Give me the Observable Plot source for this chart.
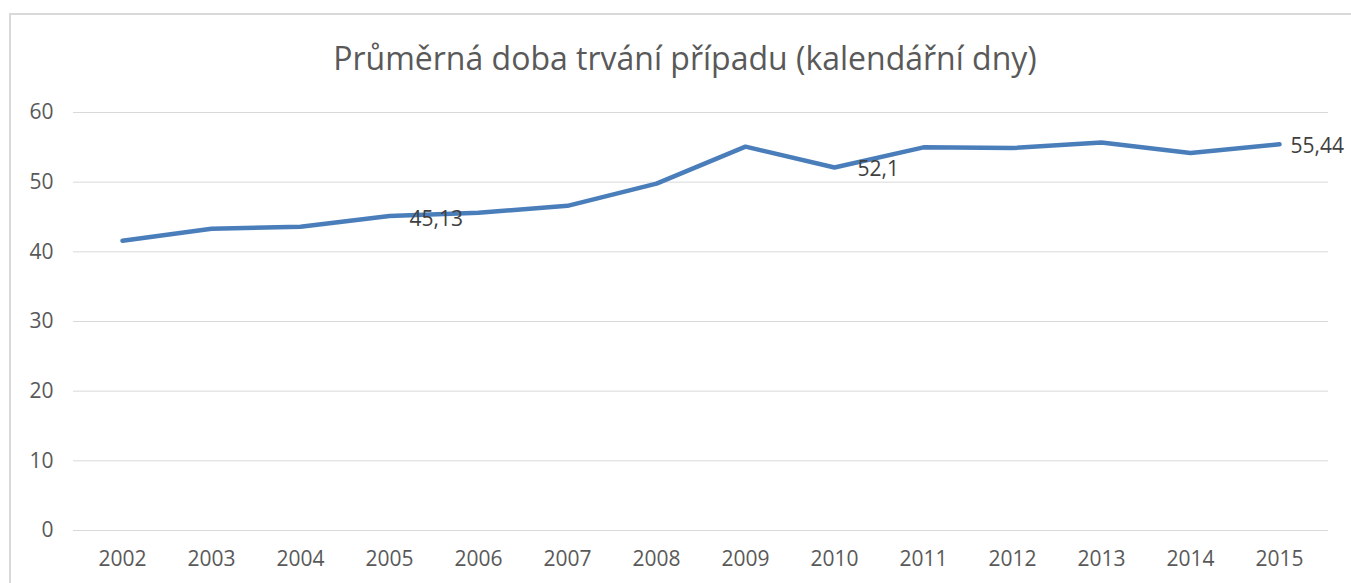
<!DOCTYPE html>
<html>
<head>
<meta charset="utf-8">
<script src="https://cdn.jsdelivr.net/npm/d3@7"></script>
<script src="https://cdn.jsdelivr.net/npm/@observablehq/plot@0.6"></script>
<style>
  html, body { margin: 0; padding: 0; background: #fff; }
  body { width: 1351px; height: 583px; position: relative; overflow: hidden; font-family: "Open Sans", sans-serif; }
  #frame { position: absolute; left: 9px; top: 13px; width: 1400px; height: 700px; border-left: 2px solid #d9d9d9; border-top: 2px solid #d9d9d9; }
  #title { position: absolute; left: 0; top: 42px; width: 1370px; text-align: center; font-size: 32px; line-height: 1; color: #595959; white-space: nowrap; }
  #chart { position: absolute; left: 0; top: 90px; }
</style>
</head>
<body>
<div id="frame"></div>
<div id="title">Průměrná doba trvání případu (kalendářní dny)</div>
<div id="chart"></div>
<script>
const years = ["2002","2003","2004","2005","2006","2007","2008","2009","2010","2011","2012","2013","2014","2015"];
const values = [41.6, 43.3, 43.6, 45.13, 45.6, 46.6, 49.8, 55.1, 52.1, 55.0, 54.9, 55.7, 54.2, 55.44];
const yTicks = [0, 10, 20, 30, 40, 50, 60];
const labelYears = ["2005", "2010", "2015"];

const data = years.map((y, i) => ({year: y, value: values[i]}));
const fmt = v => String(v).replace(".", ",");
const lab = yr => data.filter(d => d.year === yr);

const plot = Plot.plot({
  width: 1351,
  height: 493,
  marginTop: 22,
  marginBottom: 53,
  marginLeft: 73,
  marginRight: 23,
  style: { fontFamily: "Open Sans", fontSize: "21px", color: "#595959", background: "transparent" },
  x: { type: "point", domain: years, padding: 0.5, label: null },
  y: { domain: [0, 60], label: null },
  marks: [
    Plot.gridY(yTicks, { stroke: "#d9d9d9", strokeOpacity: 1, strokeWidth: 1 }),
    Plot.axisY(yTicks, { tickSize: 0, tickPadding: 20, label: null, fill: "#595959" }),
    Plot.axisX({ tickSize: 0, tickPadding: 21, label: null, fill: "#595959" }),
    Plot.lineY(data, { x: "year", y: "value", stroke: "#4a7ebb", strokeWidth: 4.5, strokeLinejoin: "round", strokeLinecap: "round" }),
    Plot.text(lab(labelYears[0]), { x: "year", y: "value", text: d => fmt(d.value), textAnchor: "start", dx: 20, dy: 3, fill: "#404040", fontSize: 21 }),
    Plot.text(lab(labelYears[1]), { x: "year", y: "value", text: d => fmt(d.value), textAnchor: "start", dx: 23, dy: 2, fill: "#404040", fontSize: 21 }),
    Plot.text(lab(labelYears[2]), { x: "year", y: "value", text: d => fmt(d.value), textAnchor: "start", dx: 11, dy: 2, fill: "#404040", fontSize: 21 })
  ]
});
document.getElementById("chart").appendChild(plot);
</script>
</body>
</html>
